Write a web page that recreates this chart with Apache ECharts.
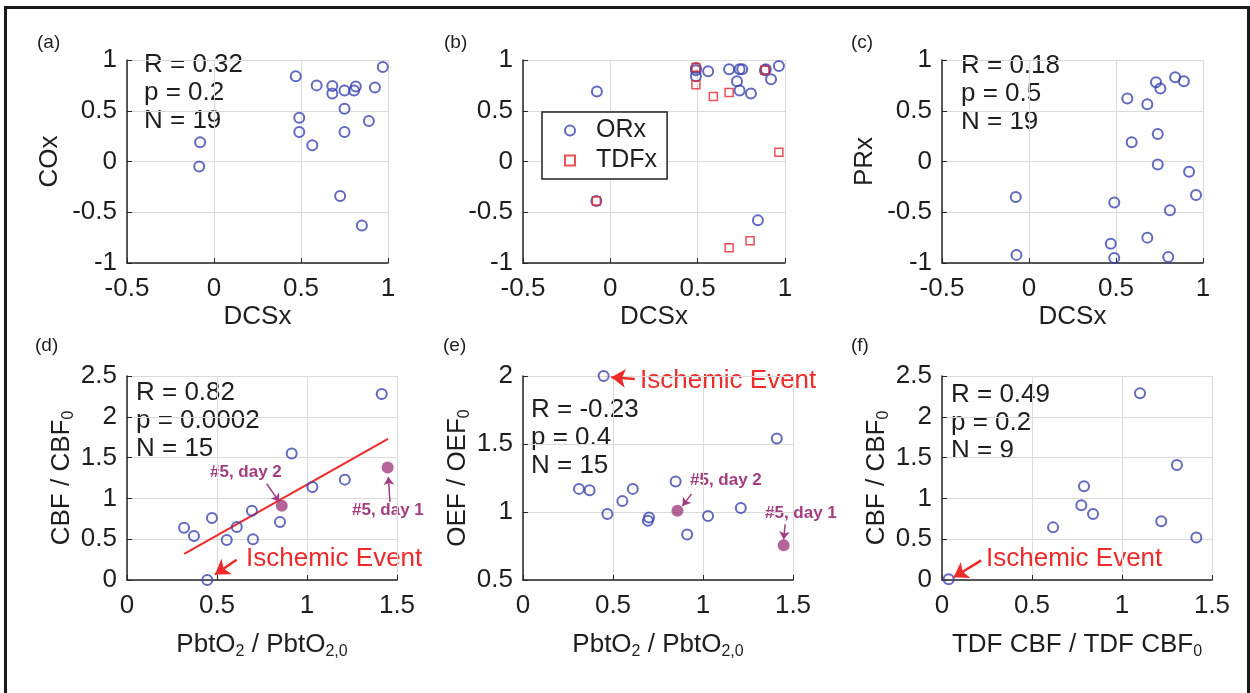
<!DOCTYPE html>
<html>
<head>
<meta charset="utf-8">
<script src="https://cdn.jsdelivr.net/npm/echarts@6/dist/echarts.min.js"></script>
<style>
  html, body { margin: 0; padding: 0; background: #fff; }
  #main { width: 1250px; height: 693px; }
</style>
</head>
<body>
<div id="main"></div>
<script>
// (a) DCSx vs COx
var dcsA = [-0.08, -0.085, 0.47, 0.49, 0.49, 0.565, 0.59, 0.68, 0.68, 0.75, 0.815, 0.805, 0.75, 0.75, 0.925, 0.97, 0.89, 0.725, 0.85];
var coxA = [0.19, -0.05, 0.84, 0.43, 0.29, 0.16, 0.75, 0.745, 0.67, 0.70, 0.74, 0.70, 0.52, 0.29, 0.73, 0.93, 0.40, -0.34, -0.63];
// (b) DCSx vs ORx / TDFx
var dcsOr = [-0.077, -0.08, 0.49, 0.49, 0.56, 0.68, 0.74, 0.755, 0.725, 0.74, 0.805, 0.89, 0.92, 0.965, 0.845, 0.49, 0.885];
var orx = [0.69, -0.39, 0.90, 0.84, 0.89, 0.91, 0.91, 0.91, 0.79, 0.70, 0.67, 0.91, 0.81, 0.94, -0.58, 0.92, 0.90];
var dcsTdf = [-0.08, 0.49, 0.49, 0.59, 0.68, 0.885, 0.965, 0.68, 0.80];
var tdfx = [-0.39, 0.925, 0.755, 0.64, 0.68, 0.90, 0.09, -0.85, -0.78];
// (c) DCSx vs PRx
var dcsC = [-0.076, -0.072, 0.49, 0.47, 0.49, 0.565, 0.59, 0.68, 0.68, 0.73, 0.755, 0.74, 0.74, 0.81, 0.80, 0.84, 0.89, 0.92, 0.96];
var prxC = [-0.35, -0.92, -0.405, -0.81, -0.95, 0.62, 0.19, 0.565, -0.75, 0.78, 0.72, 0.27, -0.03, -0.48, -0.94, 0.83, 0.79, -0.10, -0.33];
// (d) PbtO2 ratio vs CBF ratio
var pbtD = [1.415, 0.915, 1.03, 1.21, 0.317, 0.372, 0.472, 0.554, 0.61, 0.694, 0.70, 0.85, 0.446];
var cbfD = [2.28, 1.55, 1.14, 1.23, 0.64, 0.54, 0.76, 0.49, 0.65, 0.85, 0.50, 0.71, 0.0];
var pbtD5 = [0.86, 1.448];
var cbfD5 = [0.91, 1.38];
var fitX = [0.318, 1.45];
var fitY = [0.32, 1.73];
// (e) PbtO2 ratio vs OEF ratio
var pbtE = [0.448, 0.311, 0.37, 0.469, 0.552, 0.61, 0.694, 0.70, 0.848, 0.912, 1.028, 1.21, 1.41];
var oefE = [2.0, 1.17, 1.16, 0.985, 1.08, 1.17, 0.935, 0.96, 1.225, 0.835, 0.97, 1.03, 1.54];
var pbtE5 = [0.858, 1.448];
var oefE5 = [1.01, 0.755];
// (f) TDF CBF ratio vs CBF ratio
var tdfF = [0.037, 0.617, 0.774, 0.789, 0.839, 1.10, 1.218, 1.305, 1.413];
var cbfF = [0.01, 0.645, 0.915, 1.15, 0.81, 2.29, 0.72, 1.41, 0.52];

var statsA = ['R = 0.32', 'p = 0.2', 'N = 19'];
var statsC = ['R = 0.18', 'p = 0.5', 'N = 19'];
var statsD = ['R = 0.82', 'p = 0.0002', 'N = 15'];
var statsE = ['R = -0.23', 'p = 0.4', 'N = 15'];
var statsF = ['R = 0.49', 'p = 0.2', 'N = 9'];

// annotation arrows, data units: [x1, y1, x2, y2]
var arrowIschD = [0.609, 0.248, 0.489, 0.068];
var arrowIschE = [0.621, 1.978, 0.491, 1.99];
var arrowIschF = [0.218, 0.24, 0.065, 0.034];
var arrowDay2D = [0.776, 1.18, 0.846, 0.958];
var arrowDay1D = [1.461, 0.956, 1.452, 1.263];
var arrowDay2E = [0.936, 1.133, 0.886, 1.044];
var arrowDay1E = [1.456, 0.909, 1.448, 0.798];

var FONT = "'Liberation Sans', Arial, sans-serif";
var BLUE = '#3a44b0';
var RED = '#ee2a2a';
var SQRED = '#e3262c';
var PURPLE = '#a23d80';
var INK = '#1e1e1e';

function pairs(xs, ys) {
    var out = [];
    for (var i = 0; i < xs.length; i++) out.push([xs[i], ys[i]]);
    return out;
}

var subRich = {
    m: { fontSize: 26, color: INK, fontFamily: FONT, lineHeight: 30 },
    s: { fontSize: 16, color: INK, fontFamily: FONT, lineHeight: 16, verticalAlign: 'bottom', padding: [13, 0, 0, 0] }
};

function xAxisOf(grid, min, max, name, gap) {
    return {
        type: 'value', gridIndex: grid, min: min, max: max, interval: 0.5,
        name: name, nameLocation: 'middle', nameGap: gap,
        nameTextStyle: { fontSize: 26, color: INK, fontFamily: FONT, rich: subRich },
        axisLine: { show: true, onZero: false, lineStyle: { color: '#262626', width: 1.5 } },
        axisTick: { show: true, inside: true, length: 5, lineStyle: { color: '#262626' } },
        axisLabel: { fontSize: 26, color: INK, fontFamily: FONT, margin: 13 },
        splitLine: { show: true, lineStyle: { color: '#dadada', width: 1 } }
    };
}

function yAxisOf(grid, min, max, name, gap) {
    return {
        type: 'value', gridIndex: grid, min: min, max: max, interval: 0.5,
        name: name, nameLocation: 'middle', nameGap: gap, nameRotate: 90,
        nameTextStyle: { fontSize: 26, color: INK, fontFamily: FONT, rich: subRich },
        axisLine: { show: true, onZero: false, lineStyle: { color: '#262626', width: 1.5 } },
        axisTick: { show: true, inside: true, length: 5, lineStyle: { color: '#262626' } },
        axisLabel: { fontSize: 26, color: INK, fontFamily: FONT, margin: 10 },
        splitLine: { show: true, lineStyle: { color: '#dadada', width: 1 } }
    };
}

function circles(name, grid, xs, ys) {
    return {
        name: name, type: 'scatter', xAxisIndex: grid, yAxisIndex: grid,
        data: pairs(xs, ys), symbol: 'circle', symbolSize: 10,
        itemStyle: { color: 'rgba(255,255,255,0)', borderColor: BLUE, borderWidth: 2 },
        z: 3
    };
}

function dots(grid, xs, ys) {
    return {
        type: 'scatter', xAxisIndex: grid, yAxisIndex: grid,
        data: pairs(xs, ys), symbol: 'circle', symbolSize: 12,
        itemStyle: { color: PURPLE }, z: 4
    };
}

function arrows(grid, list, color, width, headSize) {
    return {
        type: 'line', xAxisIndex: grid, yAxisIndex: grid, data: [],
        markLine: {
            silent: true, animation: false,
            symbol: ['none', 'arrow'], symbolSize: headSize,
            lineStyle: { color: color, width: width, type: 'solid' },
            itemStyle: { color: color },
            label: { show: false },
            data: list.map(function (a) {
                return [{ coord: [a[0], a[1]] }, { coord: [a[2], a[3]] }];
            })
        },
        z: 5
    };
}

function statText(left, top, lines) {
    return {
        type: 'text', left: left, top: top,
        style: { text: lines.join('\n'), fontSize: 26, lineHeight: 28, fill: INK, fontFamily: FONT }
    };
}

function note(left, top, txt, color, size, bold) {
    return {
        type: 'text', left: left, top: top,
        style: { text: txt, fontSize: size, fill: color, fontFamily: FONT, fontWeight: bold ? 'bold' : 'normal' }
    };
}

var grids = [
    { left: 127, top: 60, width: 261, height: 203 },
    { left: 523, top: 60, width: 262, height: 203 },
    { left: 942, top: 60, width: 261, height: 203 },
    { left: 127, top: 376, width: 270, height: 204 },
    { left: 523, top: 376, width: 270, height: 204 },
    { left: 942, top: 376, width: 270, height: 204 }
];

var chart = echarts.init(document.getElementById('main'), null, { renderer: 'canvas' });

chart.setOption({
    animation: false,
    backgroundColor: '#fff',
    grid: grids,
    xAxis: [
        xAxisOf(0, -0.5, 1, 'DCSx', 41),
        xAxisOf(1, -0.5, 1, 'DCSx', 41),
        xAxisOf(2, -0.5, 1, 'DCSx', 41),
        xAxisOf(3, 0, 1.5, '{m|PbtO}{s|2}{m| / PbtO}{s|2,0}', 50),
        xAxisOf(4, 0, 1.5, '{m|PbtO}{s|2}{m| / PbtO}{s|2,0}', 50),
        xAxisOf(5, 0, 1.5, '{m|TDF CBF / TDF CBF}{s|0}', 50)
    ],
    yAxis: [
        yAxisOf(0, -1, 1, 'COx', 64),
        yAxisOf(1, -1, 1, '', 60),
        yAxisOf(2, -1, 1, 'PRx', 64),
        yAxisOf(3, 0, 2.5, '{m|CBF / CBF}{s|0}', 50),
        yAxisOf(4, 0.5, 2, '{m|OEF / OEF}{s|0}', 50),
        yAxisOf(5, 0, 2.5, '{m|CBF / CBF}{s|0}', 50)
    ],
    legend: {
        data: ['ORx', 'TDFx'],
        orient: 'vertical', left: 542, top: 112,
        padding: [6, 10, 6, 22], itemGap: 5,
        itemWidth: 10, itemHeight: 10,
        backgroundColor: '#fff',
        borderColor: '#222', borderWidth: 1.5, borderRadius: 0,
        textStyle: { fontSize: 25, color: INK, fontFamily: FONT, padding: [0, 0, 0, 16] }
    },
    series: [
        circles('', 0, dcsA, coxA),
        circles('ORx', 1, dcsOr, orx),
        {
            name: 'TDFx', type: 'scatter', xAxisIndex: 1, yAxisIndex: 1,
            data: pairs(dcsTdf, tdfx), symbol: 'rect', symbolSize: 8,
            itemStyle: { color: 'rgba(255,255,255,0)', borderColor: SQRED, borderWidth: 1.5 },
            z: 4
        },
        circles('', 2, dcsC, prxC),
        {
            type: 'line', xAxisIndex: 3, yAxisIndex: 3, data: pairs(fitX, fitY),
            symbol: 'none', lineStyle: { color: RED, width: 2 }, z: 2
        },
        circles('', 3, pbtD, cbfD),
        dots(3, pbtD5, cbfD5),
        circles('', 4, pbtE, oefE),
        dots(4, pbtE5, oefE5),
        circles('', 5, tdfF, cbfF),
        arrows(3, [arrowIschD], RED, 2.5, 14),
        arrows(4, [arrowIschE], RED, 2.5, 14),
        arrows(5, [arrowIschF], RED, 2.5, 14),
        arrows(3, [arrowDay2D, arrowDay1D], PURPLE, 1.5, 8),
        arrows(4, [arrowDay2E, arrowDay1E], PURPLE, 1.5, 8)
    ],
    graphic: [
        {
            type: 'rect', left: 3, top: 5, silent: true,
            shape: { width: 1243, height: 720 },
            style: { fill: 'none', stroke: '#1a1a1a', lineWidth: 3 }
        },
        note(37, 33, '(a)', INK, 19, false),
        note(444, 33, '(b)', INK, 19, false),
        note(851, 33, '(c)', INK, 19, false),
        note(35, 336, '(d)', INK, 19, false),
        note(443, 336, '(e)', INK, 19, false),
        note(851, 336, '(f)', INK, 19, false),
        statText(144, 51, statsA),
        statText(961, 52, statsC),
        statText(136, 379, statsD),
        statText(531, 396, statsE),
        statText(951, 381, statsF),
        note(246, 546, 'Ischemic Event', RED, 26, false),
        note(640, 368, 'Ischemic Event', RED, 26, false),
        note(986, 546, 'Ischemic Event', RED, 26, false),
        note(210, 464, '#5, day 2', PURPLE, 17, true),
        note(352, 502, '#5, day 1', PURPLE, 17, true),
        note(690, 472, '#5, day 2', PURPLE, 17, true),
        note(765, 505, '#5, day 1', PURPLE, 17, true)
    ]
});
</script>
</body>
</html>
